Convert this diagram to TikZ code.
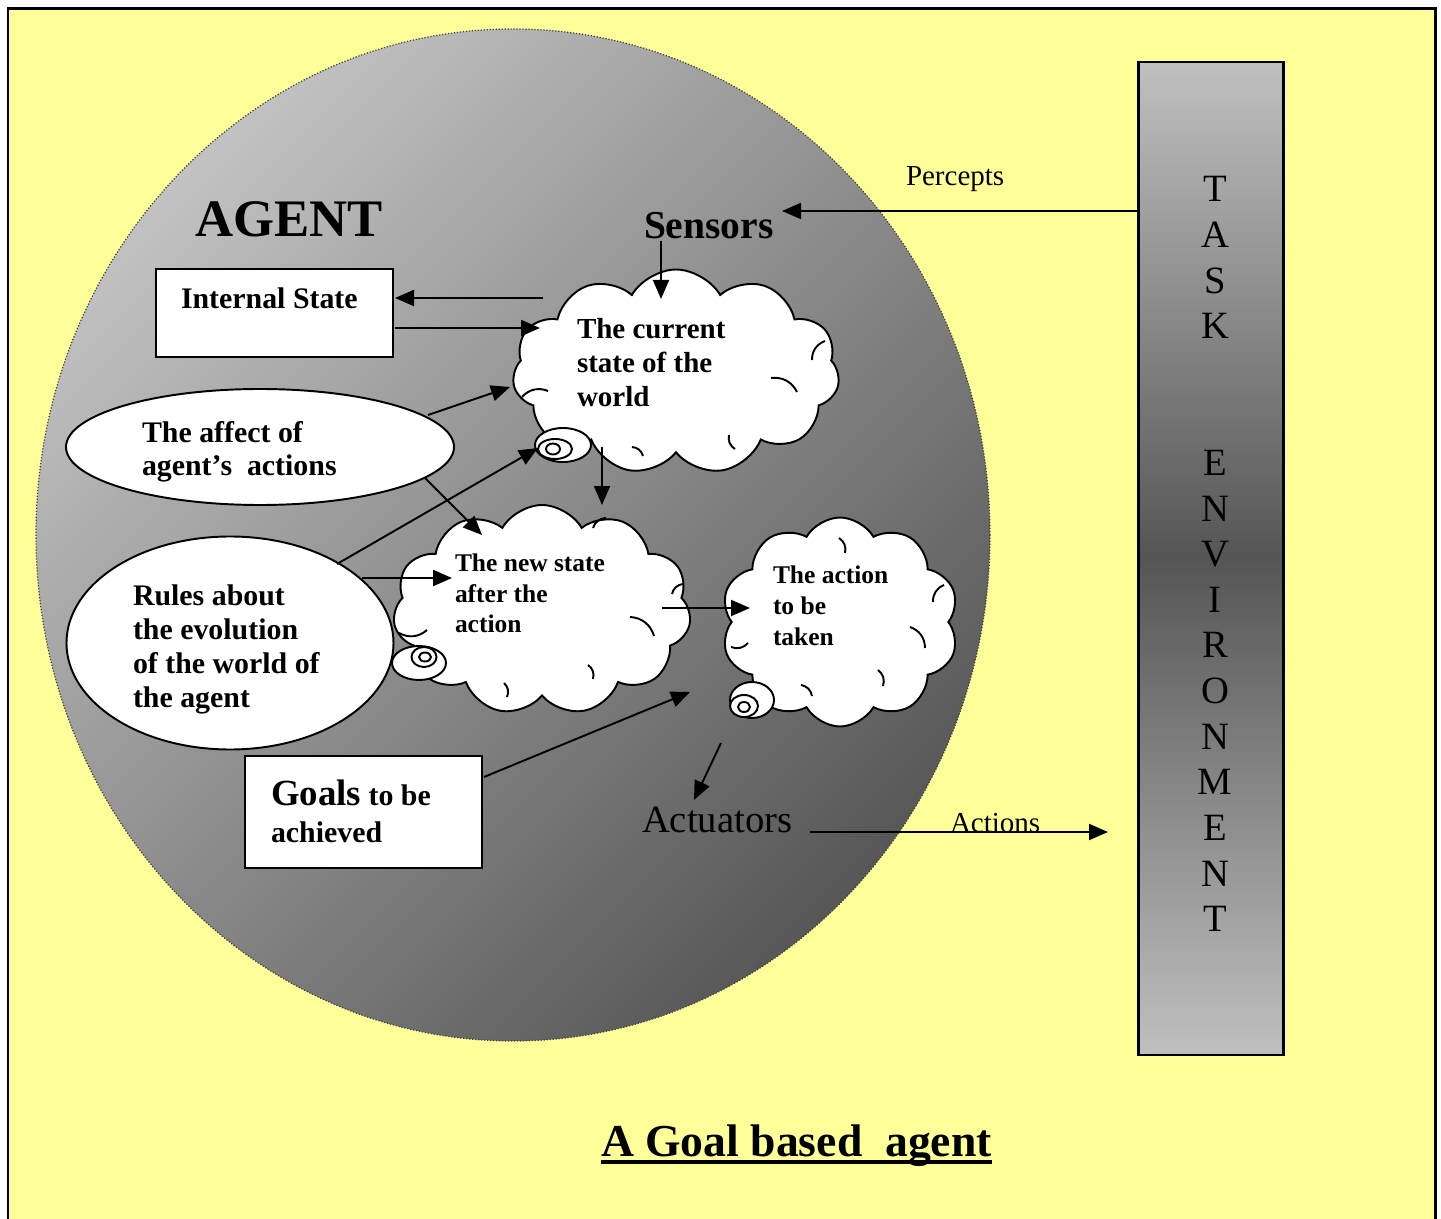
\documentclass[tikz,border=0pt]{standalone}
\usepackage{fontspec}
\setmainfont{Liberation Serif}
\usetikzlibrary{shapes.geometric,shapes.symbols,arrows.meta}
\definecolor{paper}{HTML}{FFFF99}
\definecolor{shadelight}{HTML}{C2C2C2}
\definecolor{shadedark}{HTML}{575757}
\definecolor{barlight}{HTML}{C0C0C0}
\definecolor{bardark}{HTML}{555555}
\def\px{0.02cm}
\begin{document}
\begin{tikzpicture}[x=0.02cm, y=-0.02cm,
  every node/.style={inner sep=0pt, outer sep=0pt},
  boldtext/.style={font=\bfseries\fontsize{#1}{#1}\selectfont},
  plaintext/.style={font=\fontsize{#1}{#1}\selectfont},
  arr/.style={line width=1.1pt, -{Triangle[length=0.38cm,width=0.32cm]}},
  puff/.style={cloud, cloud puffs=11, cloud puff arc=120, cloud ignores aspect,
    draw, line width=1.1pt, fill=white},
  crease/.style={line width=1.1pt},
  bubble/.style={ellipse, draw, line width=1.1pt, fill=white},
  oval/.style={ellipse, draw, line width=1.1pt, fill=white},
  panel/.style={draw, line width=1.7pt, fill=white},
  envletter/.style={font=\fontsize{22}{22}\selectfont, anchor=base}
]
\useasboundingbox (0,0) rectangle (1441,1219);
\fill[white] (0,0) rectangle (1441,1219);
% page frame
\draw[line width=1.7pt, fill=paper] (8,9) rectangle (1435,1240);

% the agent body
\node[ellipse, minimum width=954*\px, minimum height=1012*\px,
  top color=shadelight, bottom color=shadedark, shading angle=45,
  draw=black!75, densely dotted, line width=0.7pt] (agent) at (513,535) {};
\node[boldtext=30, anchor=base west] (agenttitle) at (195,237) {AGENT};

% task environment bar
\node[draw, line width=1.7pt, minimum width=145*\px, minimum height=993*\px,
  top color=barlight, bottom color=barlight, middle color=bardark] (env) at (1210.5,558.5) {};
\foreach \ch/\k in {T/0,A/1,S/2,K/3,E/6,N/7,V/8,I/9,R/10,O/11,N/12,M/13,E/14,N/15,T/16}
  \node[envletter] (env-\k) at (1215,{202+\k*45.6}) {\ch};

% sensors and actuators
\node[boldtext=22.5, anchor=base west] (sensors) at (644,239) {Sensors};
\node[plaintext=16.5, anchor=base west] (percepts) at (906,186) {Percepts};
\node[plaintext=22, anchor=base west] (actuators) at (642,832) {Actuators};
\node[plaintext=16.5, anchor=base west] (actions) at (950,832) {Actions};

% knowledge boxes and ovals
\node[panel, minimum width=237*\px, minimum height=88*\px] (istate) at (274.5,313) {};
\node[boldtext=17, anchor=base west] (istate-t) at (181,309) {Internal State};

\node[oval, minimum width=388*\px, minimum height=116*\px] (affect) at (260,447) {};
\node[font=\bfseries\fontsize{17}{19.3}\selectfont, align=left, anchor=north west] (affect-t) at (142,421)
  {The affect of\\agent’s\ \ actions};

\node[oval, minimum width=327*\px, minimum height=213*\px] (rules) at (230,643) {};
\node[font=\bfseries\fontsize{17}{19.3}\selectfont, align=left, anchor=north west] (rules-t) at (133,585)
  {Rules about\\the evolution\\of the world of\\the agent};

\node[panel, minimum width=237*\px, minimum height=112*\px] (goals) at (363.5,812) {};
\node[font=\bfseries\fontsize{17}{21}\selectfont, align=left, anchor=north west] (goals-t) at (271,780)
  {{\fontsize{21}{21}\selectfont Goals} to be\\achieved};

% thought clouds
\node[puff, minimum width=327*\px, minimum height=205*\px] (cur) at (676,372) {};
\node[puff, minimum width=298*\px, minimum height=210*\px] (new) at (542,610) {};
\node[puff, cloud puffs=10, minimum width=238*\px, minimum height=209*\px] (act) at (840,622) {};

% creases inside the clouds
\draw[crease] (522,397) to[bend left=35] (548,391);
\draw[crease] (812,360) to[bend left=35] (825,341);
\draw[crease] (771,378) to[bend left=35] (797,392);
\draw[crease] (729,435) to[bend right=35] (735,449);
\draw[crease] (632,447) to[bend left=35] (643,456);
\draw[crease] (399,633) to[bend right=35] (427,630);
\draw[crease] (630,617) to[bend left=35] (654,636);
\draw[crease] (672,594) to[bend left=35] (683,584);
\draw[crease] (593,528) to[bend left=35] (606,518);
\draw[crease] (504,683) to[bend left=35] (507,697);
\draw[crease] (588,665) to[bend left=35] (593,679);
\draw[crease] (731,647) to[bend right=35] (748,643);
\draw[crease] (910,627) to[bend left=35] (925,648);
\draw[crease] (933,602) to[bend left=35] (944,585);
\draw[crease] (839,538) to[bend left=35] (845,553);
\draw[crease] (801,685) to[bend left=35] (812,696);
\draw[crease] (878,670) to[bend left=35] (883,686);

% thought bubbles
\node[bubble, minimum width=56*\px, minimum height=34*\px] (cur-b1) at (563,445) {};
\node[bubble, minimum width=34*\px, minimum height=20*\px] (cur-b2) at (555,449) {};
\node[bubble, minimum width=14*\px, minimum height=11*\px] (cur-b3) at (553,449) {};
\node[bubble, minimum width=54*\px, minimum height=34*\px] (new-b1) at (419,663) {};
\node[bubble, minimum width=25*\px, minimum height=20*\px] (new-b2) at (424,657) {};
\node[bubble, minimum width=12*\px, minimum height=9*\px] (new-b3) at (425,657) {};
\node[bubble, minimum width=44*\px, minimum height=36*\px] (act-b1) at (752,700) {};
\node[bubble, minimum width=28*\px, minimum height=22*\px] (act-b2) at (744,706) {};
\node[bubble, minimum width=12*\px, minimum height=10*\px] (act-b3) at (744,707) {};

\node[font=\bfseries\fontsize{16.5}{19.6}\selectfont, align=left, anchor=north west] (cur-t) at (577,318)
  {The current\\state of the\\world};
\node[font=\bfseries\fontsize{14.5}{17.3}\selectfont, align=left, anchor=north west] (new-t) at (455,554)
  {The new state\\after the\\action};
\node[font=\bfseries\fontsize{14.5}{17.5}\selectfont, align=left, anchor=north west] (act-t) at (773,566)
  {The action\\to be\\taken};

% caption
\node[boldtext=26, anchor=base west] (caption) at (601,1156) {A Goal based\ \ agent};
\draw[line width=2.3pt] ([yshift=-3.4pt]caption.base west) -- ([yshift=-3.4pt]caption.base east);

% connector end points
\coordinate (pcp-s) at (1138,211);   \coordinate (pcp-e) at (782,211);
\coordinate (sen-s) at (661,241);    \coordinate (sen-e) at (661,299);
\coordinate (cis-s) at (543,298);    \coordinate (cis-e) at (395,298);
\coordinate (isc-s) at (395,328);    \coordinate (isc-e) at (540,328);
\coordinate (afc-s) at (428,415);    \coordinate (afc-e) at (510,387);
\coordinate (afn-s) at (425,478);    \coordinate (afn-e) at (482,535);
\coordinate (ruc-s) at (337,564);    \coordinate (ruc-e) at (538,448);
\coordinate (run-s) at (362,578);    \coordinate (run-e) at (452,578);
\coordinate (cn-s)  at (602,447);    \coordinate (cn-e)  at (602,505);
\coordinate (na-s)  at (662,608);    \coordinate (na-e)  at (750,608);
\coordinate (go-s)  at (484,777);    \coordinate (go-e)  at (690,692);
\coordinate (aa-s)  at (721,743);    \coordinate (aa-e)  at (694,800);
\coordinate (ac-s)  at (810,832);    \coordinate (ac-e)  at (1108,832);

% connectors
\draw[arr] (pcp-s) -- (pcp-e);
\draw[arr] (sen-s) -- (sen-e);
\draw[arr] (cis-s) -- (cis-e);
\draw[arr] (isc-s) -- (isc-e);
\draw[arr] (afc-s) -- (afc-e);
\draw[arr] (afn-s) -- (afn-e);
\draw[arr] (ruc-s) -- (ruc-e);
\draw[arr] (run-s) -- (run-e);
\draw[arr] (cn-s) -- (cn-e);
\draw[arr] (na-s) -- (na-e);
\draw[arr] (go-s) -- (go-e);
\draw[arr] (aa-s) -- (aa-e);
\draw[arr] (ac-s) -- (ac-e);
\end{tikzpicture}
\end{document}
